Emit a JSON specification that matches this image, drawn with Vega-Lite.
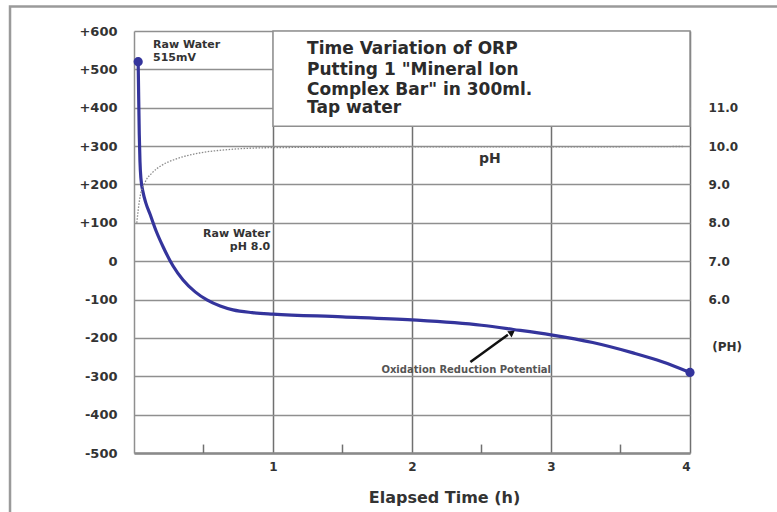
{
  "$schema": "https://vega.github.io/schema/vega-lite/v6.json",
  "width": 556,
  "height": 422,
  "autosize": {"type": "none"},
  "padding": {"left": 134, "top": 31, "right": 87, "bottom": 59},
  "background": "white",
  "config": {"view": {"stroke": null}, "font": "DejaVu Sans", "text": {"font": "DejaVu Sans"}},
  "datasets": {
    "orp": [
      {"t": 0.03, "orp": 520}, {"t": 0.034, "orp": 420}, {"t": 0.038, "orp": 330}, {"t": 0.043, "orp": 260},
      {"t": 0.05, "orp": 215}, {"t": 0.065, "orp": 180}, {"t": 0.085, "orp": 152}, {"t": 0.115, "orp": 123},
      {"t": 0.16, "orp": 78}, {"t": 0.21, "orp": 37}, {"t": 0.28, "orp": -12}, {"t": 0.353, "orp": -49},
      {"t": 0.44, "orp": -80}, {"t": 0.525, "orp": -101}, {"t": 0.62, "orp": -117}, {"t": 0.712, "orp": -127},
      {"t": 0.85, "orp": -134}, {"t": 1.0, "orp": -138}, {"t": 1.5, "orp": -145}, {"t": 2.0, "orp": -153},
      {"t": 2.5, "orp": -167}, {"t": 2.73, "orp": -178}, {"t": 3.0, "orp": -192}, {"t": 3.3, "orp": -212},
      {"t": 3.59, "orp": -239}, {"t": 3.8, "orp": -262}, {"t": 4.0, "orp": -290}
    ],
    "ends": [{"t": 0.03, "orp": 520}, {"t": 4.0, "orp": -290}],
    "ph": [
      {"t": 0.02, "ph": 8.0}, {"t": 0.04, "ph": 8.6}, {"t": 0.08, "ph": 9.06}, {"t": 0.13, "ph": 9.3},
      {"t": 0.2, "ph": 9.5}, {"t": 0.3, "ph": 9.66}, {"t": 0.47, "ph": 9.82}, {"t": 0.65, "ph": 9.9},
      {"t": 1.0, "ph": 9.96}, {"t": 1.5, "ph": 9.97}, {"t": 2.0, "ph": 9.98}, {"t": 3.0, "ph": 9.98},
      {"t": 3.95, "ph": 9.99}
    ],
    "halfticks": [
      {"t": 0.5, "y": -500, "y2": -478}, {"t": 1.5, "y": -500, "y2": -478},
      {"t": 2.5, "y": -500, "y2": -478}, {"t": 3.5, "y": -500, "y2": -478}
    ],
    "box": [{"t": 1, "t2": 4, "y": 352, "y2": 600}],
    "frame": [{"t": -0.892, "t2": 4.8, "y": 664, "y2": -680}],
    "arrow": [{"t": 2.42, "y": -263, "t2": 2.69, "y2": -192}],
    "head": [{"t": 2.72, "y": -186}],
    "title": [
      {"t": 1.245, "y": 540, "text": "Time Variation of ORP"},
      {"t": 1.245, "y": 486, "text": "Putting 1 \"Mineral Ion"},
      {"t": 1.245, "y": 434, "text": "Complex Bar\" in 300ml."},
      {"t": 1.245, "y": 386, "text": "Tap water"}
    ],
    "notesLeft": [
      {"t": 0.137, "y": 556, "text": "Raw Water"},
      {"t": 0.137, "y": 522, "text": "515mV"}
    ],
    "notesRight": [
      {"t": 0.98, "y": 63, "text": "Raw Water"},
      {"t": 0.98, "y": 29, "text": "pH 8.0"}
    ],
    "phLabel": [{"t": 2.56, "y": 256, "text": "pH"}],
    "orpLabel": [{"t": 2.39, "y": -292, "text": "Oxidation Reduction Potential"}],
    "phUnit": [{"t": 4.16, "y": -224, "text": "(PH)"}]
  },
  "layer": [
    {
      "layer": [
        {
          "data": {"name": "frame"},
          "mark": {"type": "rect", "fill": null, "stroke": "#9a9a9a", "strokeWidth": 2.5},
          "encoding": {
            "x": {"field": "t", "type": "quantitative", "scale": {"domain": [0, 4], "nice": false, "zero": false},
              "axis": {
                "values": [1, 2, 3, 4], "tickCount": 20, "format": "d", "grid": true, "gridColor": "#707070", "gridWidth": 1.5,
                "domain": true, "domainColor": "#8a8a8a", "domainWidth": 2.5, "ticks": false,
                "labelPadding": 8, "labelFontSize": 12, "labelFontWeight": "bold", "labelColor": "#333",
                "title": "Elapsed Time (h)", "titleFontSize": 16, "titleFontWeight": "bold", "titleColor": "#333",
                "titleX": 310, "titleY": 49, "titleBaseline": "alphabetic", "titleAlign": "center"
              }},
            "x2": {"field": "t2"},
            "y": {"field": "y", "type": "quantitative", "scale": {"domain": [-500, 600], "nice": false, "zero": false},
              "axis": {
                "values": [-500, -400, -300, -200, -100, 0, 100, 200, 300, 400, 500, 600], "tickCount": 30,
                "grid": true, "gridColor": "#8f8f8f", "gridWidth": 1.5, "labelOverlap": false,
                "domain": true, "domainColor": "#8f8f8f", "domainWidth": 1.5, "ticks": false,
                "labelPadding": 17, "labelFontSize": 13, "labelFontWeight": "bold", "labelColor": "#333",
                "labelExpr": "datum.value > 0 ? '+' + datum.value : '' + datum.value",
                "title": null
              }},
            "y2": {"field": "y2"}
          }
        },
        {
          "data": {"name": "box"},
          "mark": {"type": "rect", "fill": "white", "stroke": "#8f8f8f", "strokeWidth": 1.5},
          "encoding": {
            "x": {"field": "t", "type": "quantitative"},
            "x2": {"field": "t2"},
            "y": {"field": "y", "type": "quantitative"},
            "y2": {"field": "y2"}
          }
        },
        {
          "data": {"name": "halfticks"},
          "mark": {"type": "rule", "color": "#707070", "strokeWidth": 1.5},
          "encoding": {
            "x": {"field": "t", "type": "quantitative"},
            "y": {"field": "y", "type": "quantitative"},
            "y2": {"field": "y2"}
          }
        },
        {
          "data": {"name": "orp"},
          "mark": {"type": "line", "color": "#34349c", "strokeWidth": 3.2, "interpolate": "monotone"},
          "encoding": {
            "x": {"field": "t", "type": "quantitative"},
            "y": {"field": "orp", "type": "quantitative"}
          }
        },
        {
          "data": {"name": "ends"},
          "mark": {"type": "point", "filled": true, "color": "#34349c", "size": 85, "opacity": 1},
          "encoding": {
            "x": {"field": "t", "type": "quantitative"},
            "y": {"field": "orp", "type": "quantitative"}
          }
        },
        {
          "data": {"name": "arrow"},
          "mark": {"type": "rule", "color": "#111", "strokeWidth": 2.5},
          "encoding": {
            "x": {"field": "t", "type": "quantitative"},
            "y": {"field": "y", "type": "quantitative"},
            "x2": {"field": "t2"},
            "y2": {"field": "y2"}
          }
        },
        {
          "data": {"name": "head"},
          "mark": {"type": "point", "shape": "triangle-up", "filled": true, "color": "#111", "size": 55, "angle": 55, "opacity": 1},
          "encoding": {
            "x": {"field": "t", "type": "quantitative"},
            "y": {"field": "y", "type": "quantitative"}
          }
        },
        {
          "data": {"name": "title"},
          "mark": {"type": "text", "align": "left", "baseline": "alphabetic", "fontSize": 17, "fontWeight": "bold", "color": "#2b2b2b"},
          "encoding": {
            "x": {"field": "t", "type": "quantitative"},
            "y": {"field": "y", "type": "quantitative"},
            "text": {"field": "text"}
          }
        },
        {
          "data": {"name": "notesLeft"},
          "mark": {"type": "text", "align": "left", "baseline": "alphabetic", "fontSize": 11, "fontWeight": "bold", "color": "#333"},
          "encoding": {
            "x": {"field": "t", "type": "quantitative"},
            "y": {"field": "y", "type": "quantitative"},
            "text": {"field": "text"}
          }
        },
        {
          "data": {"name": "notesRight"},
          "mark": {"type": "text", "align": "right", "baseline": "alphabetic", "fontSize": 11, "fontWeight": "bold", "color": "#333"},
          "encoding": {
            "x": {"field": "t", "type": "quantitative"},
            "y": {"field": "y", "type": "quantitative"},
            "text": {"field": "text"}
          }
        },
        {
          "data": {"name": "phLabel"},
          "mark": {"type": "text", "align": "center", "baseline": "alphabetic", "fontSize": 14, "fontWeight": "bold", "color": "#333"},
          "encoding": {
            "x": {"field": "t", "type": "quantitative"},
            "y": {"field": "y", "type": "quantitative"},
            "text": {"field": "text"}
          }
        },
        {
          "data": {"name": "orpLabel"},
          "mark": {"type": "text", "align": "center", "baseline": "alphabetic", "fontSize": 10, "fontWeight": "bold", "color": "#555"},
          "encoding": {
            "x": {"field": "t", "type": "quantitative"},
            "y": {"field": "y", "type": "quantitative"},
            "text": {"field": "text"}
          }
        },
        {
          "data": {"name": "phUnit"},
          "mark": {"type": "text", "align": "left", "baseline": "middle", "fontSize": 12, "fontWeight": "bold", "color": "#333"},
          "encoding": {
            "x": {"field": "t", "type": "quantitative"},
            "y": {"field": "y", "type": "quantitative"},
            "text": {"field": "text"}
          }
        }
      ]
    },
    {
      "data": {"name": "ph"},
      "mark": {"type": "line", "color": "#8a8a8a", "strokeWidth": 1.3, "strokeDash": [1.5, 1.5], "interpolate": "monotone"},
      "encoding": {
        "x": {"field": "t", "type": "quantitative"},
        "y": {"field": "ph", "type": "quantitative", "scale": {"domain": [2, 13], "nice": false, "zero": false},
          "axis": {
            "orient": "right", "values": [6, 7, 8, 9, 10, 11], "tickCount": 20, "format": ".1f", "labelOverlap": false,
            "grid": false, "domain": false, "ticks": false, "labelPadding": 18, "labelAlign": "left",
            "labelFontSize": 12, "labelFontWeight": "bold", "labelColor": "#333", "title": null
          }}
      }
    }
  ],
  "resolve": {"scale": {"y": "independent"}}
}
